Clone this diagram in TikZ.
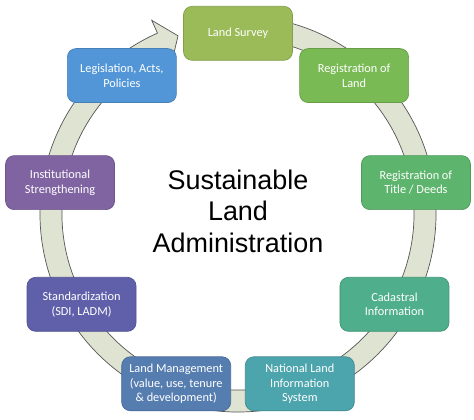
\documentclass[tikz,border=0pt]{standalone}
\usepackage{fontspec}
\setmainfont{Carlito}
\newfontfamily\titlefont{Liberation Sans}
\usepackage{tikz}

\definecolor{ringfill}{RGB}{222,227,210}
\definecolor{ringline}{RGB}{85,85,85}
\definecolor{csurvey}{RGB}{155,187,89}
\definecolor{cregland}{RGB}{121,186,84}
\definecolor{cregtitle}{RGB}{93,180,108}
\definecolor{ccadastral}{RGB}{79,174,140}
\definecolor{cnational}{RGB}{76,164,172}
\definecolor{cmanage}{RGB}{86,125,176}
\definecolor{cstandard}{RGB}{96,96,170}
\definecolor{cinstitute}{RGB}{128,100,162}
\definecolor{clegislate}{RGB}{82,150,215}

\begin{document}
\begin{tikzpicture}[
	box/.style={rectangle, rounded corners=0.26cm, draw=#1!85!black, fill=#1, line width=0.6pt,
		minimum width=3.27cm, minimum height=1.62cm, align=center, text=white,
		font=\fontsize{10.5}{12.5}\selectfont}
	]
		\useasboundingbox (-7.14,-6.18) rectangle (7.08,6.42);
		% ring with arrow head
		\draw[fill=ringfill, draw=ringline, line width=0.6pt]
			(100:5.94) arc[start angle=100, end angle=-246, radius=5.94]
			-- (-246:6.36) -- (-251.4:5.64) -- (-246:4.92) -- (-246:5.28)
			arc[start angle=-246, end angle=100, radius=5.28] -- cycle;
		\node at (90:5.42) [box=csurvey] (survey) {Land Survey};
		\node at (50:5.42) [box=cregland] (regland) {Registration of\\Land};
		\node at (10:5.42) [box=cregtitle] (regtitle) {Registration of\\Title / Deeds};
		\node at (-30:5.42) [box=ccadastral] (cadastral) {Cadastral\\Information};
		\node at (-70:5.42) [box=cnational] (national) {National Land\\Information\\System};
		\node at (-110:5.42) [box=cmanage] (manage) {Land Management\\(value, use, tenure\\\& development)};
		\node at (-150:5.42) [box=cstandard] (standard) {Standardization\\(SDI, LADM)};
		\node at (170:5.42) [box=cinstitute] (institute) {Institutional\\Strengthening};
		\node at (130:5.42) [box=clegislate] (legislate) {Legislation, Acts,\\Policies};
		\node at (0,0.08) [align=center, font=\titlefont\fontsize{23}{26.5}\selectfont] (title) {Sustainable\\Land\\Administration};
	\end{tikzpicture}
\end{document}
